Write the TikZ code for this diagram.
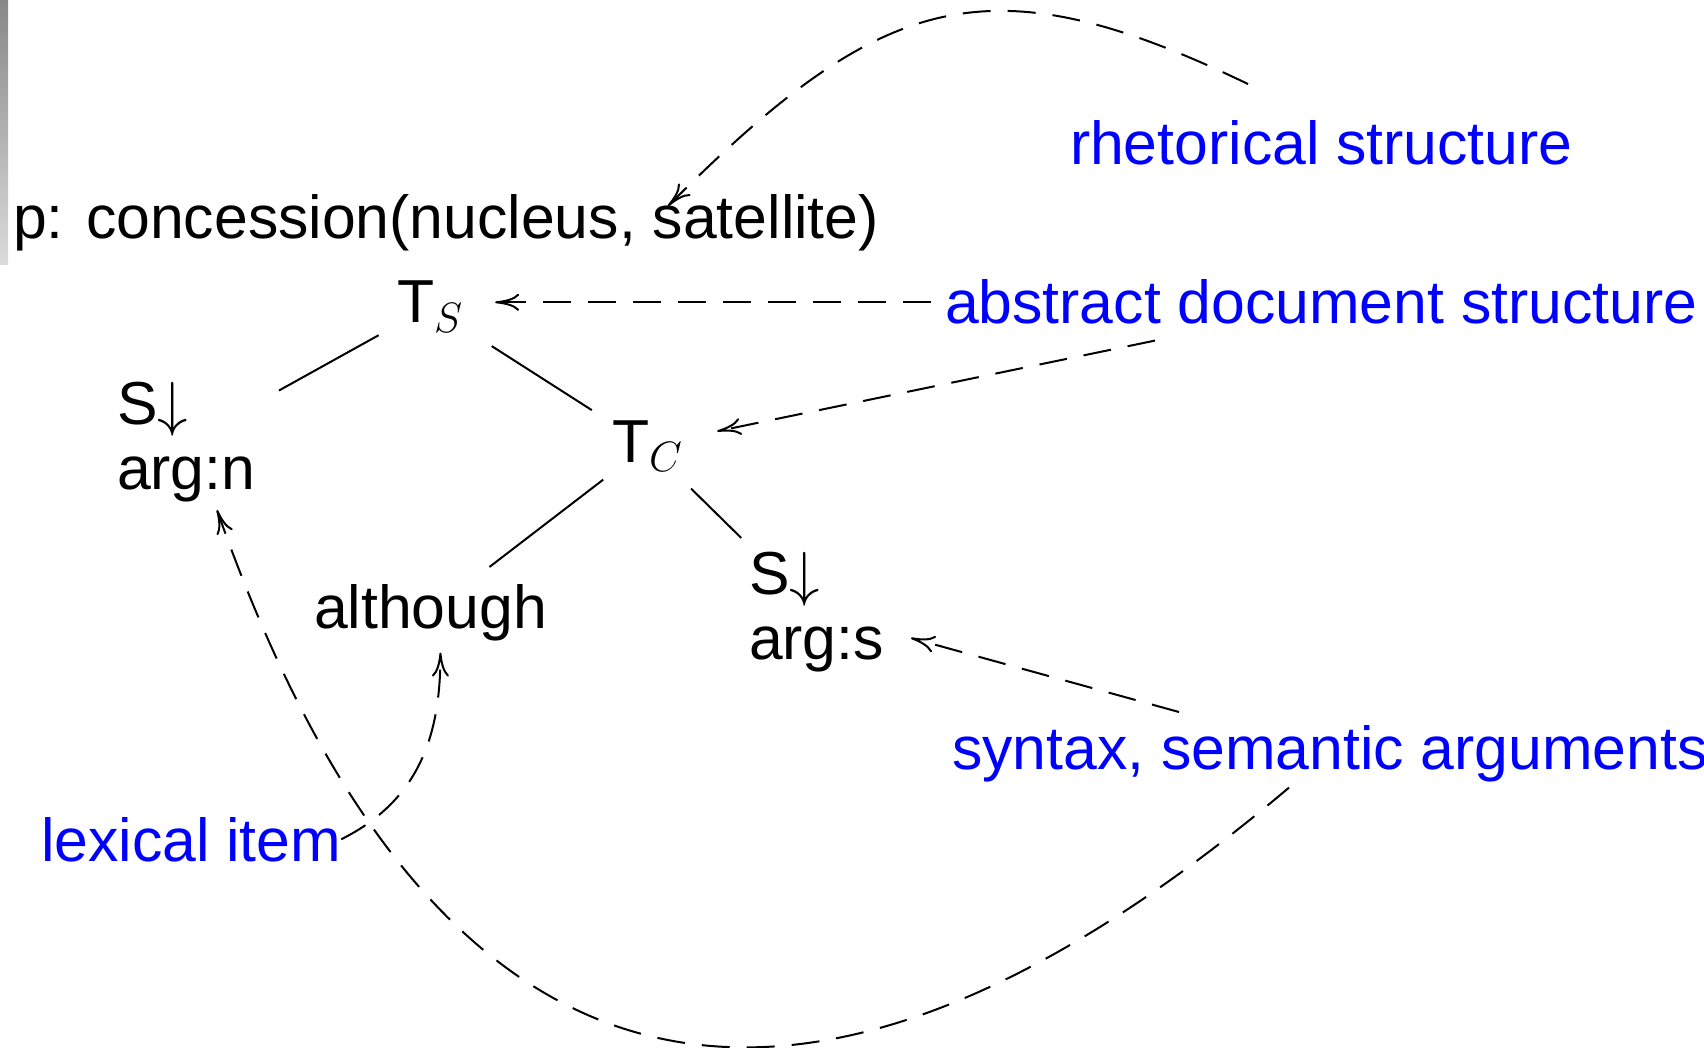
\RequirePackage{fix-cm}
\documentclass[tikz,border=0pt]{standalone}
\usepackage{fontspec}
\setmainfont{Liberation Sans}
\usetikzlibrary{arrows.meta,calc}
\begin{document}
\begin{tikzpicture}[x=0.5pt,y=-0.5pt,
  txt/.style={font=\fontsize{30.35}{32.5}\selectfont, inner sep=0pt, outer sep=0pt},
  lbl/.style={txt, text=blue},
  tree/.style={line width=1pt},
  dsh/.style={line width=1pt, dash pattern=on 14pt off 8.5pt, -{To[length=12pt,width=8.5pt]}}]
\fill[white] (0,0) rectangle (1704,1048);
\useasboundingbox (0,0) rectangle (1704,1048);
\shade[top color=black!47, bottom color=black!14] (0,0) rectangle (8,265);

\node[lbl, anchor=base west] (rs) at (1070,165) {rhetorical structure};
\node[txt, anchor=base west] (p) at (13,239) {p: concession(nucleus, satellite)};
\node[txt, anchor=base west] (TS) at (397,323) {T$_S$};
\node[lbl, anchor=base west] (ads) at (945,324) {abstract document structure};
\node[txt, anchor=north west, align=left] (argn) at (117,382) {S$\downarrow$\\arg:n};
\node[txt, anchor=base west] (TC) at (612,462) {T$_C$};
\node[txt, anchor=base west] (although) at (314,628) {although};
\node[txt, anchor=north west, align=left] (args) at (749,552) {S$\downarrow$\\arg:s};
\node[lbl, anchor=base west] (syn) at (952,769) {syntax, semantic arguments};
\node[lbl, anchor=base west] (lex) at (41,861) {lexical item};

\draw[tree, shorten <=10.5pt, shorten >=13.5pt] (TS) -- (argn);
\draw[tree, shorten <=17pt, shorten >=12pt] (TS) -- (TC);
\draw[tree, shorten <=7pt, shorten >=14pt] (TC) -- (although);
\draw[tree, shorten <=12.5pt, shorten >=10pt] (TC) -- (args);

\draw[dsh, shorten <=7pt, shorten >=16pt] (ads.west) -- (ads.west -| TS.east);
\draw[dsh, shorten >=17.5pt] ($(ads.south west)+(210,16)$) -- (TC);
\draw[dsh, shorten >=14pt] ($(syn.north west)+(227,-13)$) -- (args);
\draw[dsh] ($(rs.north west)+(178,-37)$) .. controls +(-260,-125) and +(215,-215) .. ($(p.north west)+(655,11)$);
\draw[dsh] (lex.east) .. controls +(80,-40) and +(0,80) .. ($(although.south)+(10,12)$);
\draw[dsh] ($(syn.south west)+(337,6)$) .. controls +(-400,338) and +(252,717) .. ($(argn.south west)+(100,8)$);
\end{tikzpicture}
\end{document}
